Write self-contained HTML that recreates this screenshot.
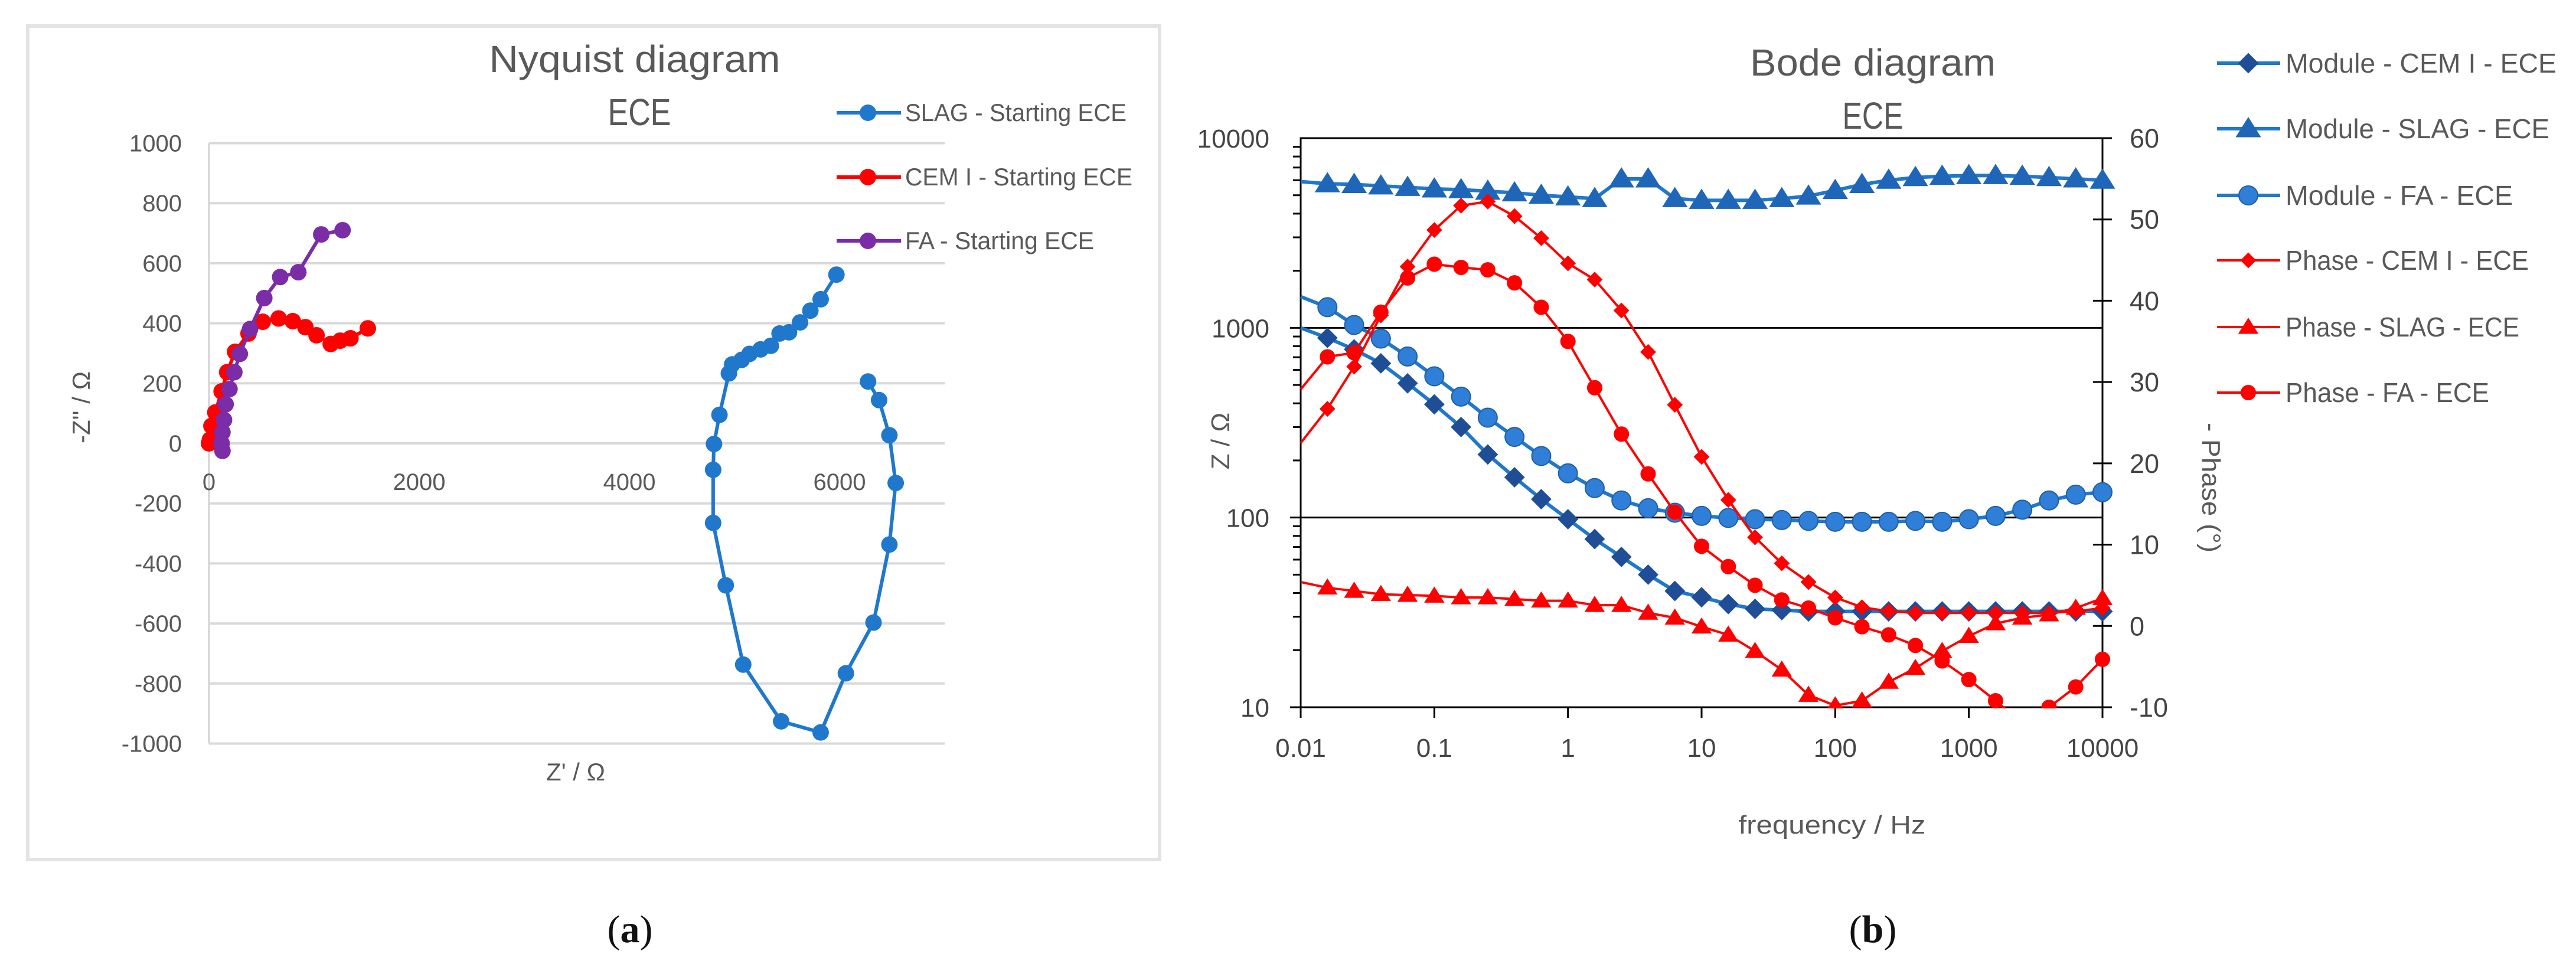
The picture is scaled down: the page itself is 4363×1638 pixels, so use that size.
<!DOCTYPE html>
<html><head><meta charset="utf-8"><style>
html,body{margin:0;padding:0;background:#fff;}
svg{display:block;font-family:"Liberation Sans",sans-serif;}
</style></head><body>
<svg id="root" width="4363" height="1638" viewBox="0 0 4363 1638" xmlns="http://www.w3.org/2000/svg">
<rect x="0" y="0" width="4363" height="1638" fill="#fff"/>
<rect x="47" y="44" width="1917" height="1412" fill="none" stroke="#e3e3e3" stroke-width="6"/>
<g id="nyq"></g>
<g id="bode"></g>
<text x="1067" y="1596" font-family="Liberation Serif,serif" font-size="66" text-anchor="middle" fill="#111">(<tspan font-weight="bold">a</tspan>)</text>
<text x="3172" y="1596" font-family="Liberation Serif,serif" font-size="66" text-anchor="middle" fill="#111">(<tspan font-weight="bold">b</tspan>)</text>
</svg>
<script>
// ---------- Nyquist data ----------
const slagX = [5970,5820,5722,5624,5519,5429,5346,5248,5143,5068,4978,4947,4857,4805,4797,4797,4917,5083,5444,5820,6060,6323,6474,6534,6474,6376,6271];
const slagY = [562,480,442,403,370,366,325,313,298,278,263,233,95,-2,-88,-265,-473,-737,-926,-963,-766,-597,-337,-132,27,144,206];
const cemX = [1511,1346,1248,1158,1023,917,797,662,511,376,248,173,120,60,23,8,0];
const cemY = [383,350,342,331,360,387,407,416,405,366,305,237,173,103,58,12,0];
const faX = [1271,1068,850,677,526,391,293,241,195,158,143,128,120,128];
const faY = [710,696,570,554,484,381,298,237,181,130,78,37,0,-25];
const nyqXTicks = [0,2000,4000,6000];
const nyqYTicks = [1000,800,600,400,200,0,-200,-400,-600,-800,-1000];
const nyqLegend = ["SLAG - Starting ECE","CEM I - Starting ECE","FA - Starting ECE"];

// ---------- Bode data ----------
const freqExp = [-2,-1.8,-1.6,-1.4,-1.2,-1,-0.8,-0.6,-0.4,-0.2,0,0.2,0.4,0.6,0.8,1,1.2,1.4,1.6,1.8,2,2.2,2.4,2.6,2.8,3,3.2,3.4,3.6,3.8,4];
const modCem = [1000,885,770,650,510,395,300,215,163,125,98,77,62,50,41,38,35,33,32.5,32,32,32,32,32,32,32,32,32,32,32,32];
const modSlag = [5900,5750,5700,5600,5500,5400,5350,5250,5150,5000,4900,4800,6100,6100,4800,4700,4700,4700,4800,4950,5300,5700,6000,6200,6300,6350,6350,6300,6200,6100,6000];
const modFa = [1460,1285,1035,877,706,555,434,336,266,211,171,143,123,112,106,102,99.5,98,97,96,95,95,95,96,95,98,102,110,123,132,136];
const phCem = [22.5,26.7,31.9,38.2,44.2,48.7,51.7,52.2,50.4,47.7,44.6,42.6,38.8,33.7,27.2,20.8,15.5,10.9,7.7,5.4,3.5,2.3,1.8,1.6,1.6,1.6,1.6,1.6,1.6,1.8,2.2];
const phSlag = [5.4,4.7,4.3,3.9,3.8,3.7,3.5,3.5,3.3,3.1,3.1,2.55,2.55,1.6,1.0,-0.1,-1.1,-3.1,-5.4,-8.5,-9.8,-9.2,-6.9,-5.2,-3.1,-1.25,0.3,1.0,1.4,2.2,3.4];
const phFa = [29.1,33.1,33.6,38.6,42.8,44.5,44.1,43.8,42.2,39.2,35.0,29.3,23.6,18.7,14.0,9.8,7.3,5.0,3.2,2.2,1.0,-0.1,-1.1,-2.4,-4.3,-6.6,-9.2,-12,-10.0,-7.5,-4.1];
const bodeXTicks = ["0.01","0.1","1","10","100","1000","10000"];
const bodeZTicks = ["10000","1000","100","10"];
const bodePhTicks = [60,50,40,30,20,10,0,-10];
const bodeLegend = ["Module - CEM I - ECE","Module - SLAG - ECE","Module - FA - ECE","Phase - CEM I - ECE","Phase - SLAG - ECE","Phase - FA - ECE"];

const NS = "http://www.w3.org/2000/svg";
function mk(parent, tag, attrs){ const e=document.createElementNS(NS,tag); for(const k in attrs) e.setAttribute(k,attrs[k]); parent.appendChild(e); return e; }

// ----- Nyquist -----
const nyq = document.getElementById('nyq');
const nx = v => 354 + v*(356/2000);
const ny = v => 751 - v*(508.5/1000);
nyqYTicks.forEach(t=>{
  const g = mk(nyq,'line',{x1:354,x2:1600,y1:ny(t),y2:ny(t),stroke:'#d9d9d9','stroke-width':4});
  
  
  const tx = mk(nyq,'text',{x:308,y:ny(t)+14,'font-size':40,'text-anchor':'end',fill:'#595959'});
  tx.textContent = t;
  
  
});
const yax = mk(nyq,'line',{x1:354,x2:354,y1:ny(1000),y2:ny(-1000),stroke:'#d9d9d9','stroke-width':4});


nyqXTicks.forEach(t=>{
  const tx = mk(nyq,'text',{x:nx(t),y:830,'font-size':40,'text-anchor':'middle',fill:'#595959'});
  tx.textContent = t;
  
  
});
function txt(parent,x,y,s,size,name,opts){
  const t = mk(parent,'text',Object.assign({x:x,y:y,'font-size':size,fill:'#595959'},opts||{}));
  t.textContent = s;
  
  
  return t;
}
txt(nyq,1075,122,"Nyquist diagram",64,'nyquist-title',{'text-anchor':'middle',textLength:493,lengthAdjust:'spacingAndGlyphs'});
txt(nyq,1083,212,"ECE",64,'nyquist-subtitle',{'text-anchor':'middle',textLength:107,lengthAdjust:'spacingAndGlyphs'});
txt(nyq,975,1322,"Z' / Ω",42,'nyquist-x-axis-title',{'text-anchor':'middle'});
txt(nyq,0,0,"-Z'' / Ω",42,'nyquist-y-axis-title',{'text-anchor':'middle',transform:'translate(152,690) rotate(-90)'});
const nyqSeries = [[slagX,slagY,'#1F78CC'],[cemX,cemY,'#FF0000'],[faX,faY,'#7A2DA6']];
nyqSeries.forEach((s,i)=>{
  const pts = s[0].map((x,j)=>nx(x)+','+ny(s[1][j])).join(' ');
  const pl = mk(nyq,'polyline',{points:pts,fill:'none',stroke:s[2],'stroke-width':6,'stroke-linejoin':'round'});
  
  
  s[0].forEach((x,j)=>{
    const c = mk(nyq,'circle',{cx:nx(x),cy:ny(s[1][j]),r:14,fill:s[2]});
    
    
  });
  const ly = [191,300,408][i];
  const ll = mk(nyq,'line',{x1:1417,x2:1526,y1:ly,y2:ly,stroke:s[2],'stroke-width':6});
  
  
  const lc = mk(nyq,'circle',{cx:1470,cy:ly,r:14,fill:s[2]});
  
  
  txt(nyq,1533,ly+14,nyqLegend[i],42,'nyquist-legend-entry',{textLength:[375,385,320][i],lengthAdjust:'spacingAndGlyphs'});
});

// ----- Bode -----
const bode = document.getElementById('bode');
const L=2203,R=3561,T=234,B=1198;
const bx = e => L + (e+2)*(R-L)/6;
const bz = v => T + (4-Math.log10(v))*(B-T)/3;
const bp = v => T + (60-v)*(B-T)/70;
txt(bode,3172,128,"Bode diagram",64,'bode-title',{'text-anchor':'middle',textLength:416,lengthAdjust:'spacingAndGlyphs'});
txt(bode,3172,218,"ECE",64,'bode-subtitle',{'text-anchor':'middle',textLength:103,lengthAdjust:'spacingAndGlyphs'});
// grid / frame
[1000,100].forEach(v=>{
  const g = mk(bode,'line',{x1:L,x2:R,y1:bz(v),y2:bz(v),stroke:'#000','stroke-width':3});
  
  
});
const fr = mk(bode,'path',{d:`M${L},${T}H${R}V${B}H${L}Z`,fill:'none',stroke:'#000','stroke-width':3});


// left log ticks
for(let d=1;d<=3;d++){
  for(let m=1;m<=9;m++){
    const v = Math.pow(10,d)*m;
    const tk = mk(bode,'line',{x1:L-(m===1?18:13),x2:L,y1:bz(v),y2:bz(v),stroke:'#000','stroke-width':3});
    
    
  }
}
bodeZTicks.forEach(s=>{
  txt(bode,2150,bz(+s)+16,s,44,'bode-z-tick-label',{'text-anchor':'end',fill:'#444'});
});
bodeXTicks.forEach(s=>{
  const x = bx(Math.log10(+s));
  const tk = mk(bode,'line',{x1:x,x2:x,y1:B,y2:B+18,stroke:'#000','stroke-width':3});
  
  
  txt(bode,x,B+84,s,44,'bode-x-tick-label',{'text-anchor':'middle',fill:'#444'});
});
bodePhTicks.forEach(v=>{
  const tk = mk(bode,'line',{x1:R-16,x2:R+16,y1:bp(v),y2:bp(v),stroke:'#000','stroke-width':3});
  
  
  txt(bode,R+46,bp(v)+16,v,45,'bode-phase-tick-label',{fill:'#444'});
});
txt(bode,3103,1412,"frequency / Hz",44,'bode-x-axis-title',{'text-anchor':'middle',textLength:317,lengthAdjust:'spacingAndGlyphs'});
txt(bode,0,0,"Z / Ω",44,'bode-z-axis-title',{'text-anchor':'middle',transform:'translate(2082,747) rotate(-90)'});
txt(bode,0,0,"- Phase (°)",44,'bode-phase-axis-title',{'text-anchor':'middle',transform:'translate(3730,826) rotate(90)',textLength:220,lengthAdjust:'spacingAndGlyphs'});
const clip = mk(bode,'clipPath',{id:'bclip'});
mk(clip,'rect',{x:L-5,y:150,width:R-L+60,height:B-150+2});
const plotG = mk(bode,'g',{'clip-path':'url(#bclip)'});


function marker(g,shape,x,y,sz,fill,stroke){
  let e;
  if(shape==='d') e = mk(g,'path',{d:`M${x},${y-sz}L${x+sz},${y}L${x},${y+sz}L${x-sz},${y}Z`,fill:fill,stroke:stroke,'stroke-width':2});
  else if(shape==='t') e = mk(g,'path',{d:`M${x},${y-sz}L${x+sz*1.1},${y+sz*0.75}L${x-sz*1.1},${y+sz*0.75}Z`,fill:fill,stroke:stroke,'stroke-width':2});
  else e = mk(g,'circle',{cx:x,cy:y,r:sz,fill:fill,stroke:stroke,'stroke-width':2});
  return e;
}
const bodeSeries = [
  [modCem,bz,'#1F78CC','d','#1F4E96','#1F4E96',16,6],
  [modSlag,bz,'#1F78CC','t','#1F66B8','#1F66B8',18,6],
  [modFa,bz,'#1F78CC','c','#2F7ED8','#1F5FA8',16,6],
  [phCem,bp,'#FF0000','d','#FF0000','#FF0000',12,4],
  [phSlag,bp,'#FF0000','t','#FF0000','#FF0000',14,4],
  [phFa,bp,'#FF0000','c','#FF0000','#FF0000',12,4]
];
bodeSeries.forEach((s,i)=>{
  const pts = s[0].map((v,j)=>bx(freqExp[j])+','+s[1](v)).join(' ');
  const pl = mk(plotG,'polyline',{points:pts,fill:'none',stroke:s[2],'stroke-width':s[7],'stroke-linejoin':'round'});
  
  
  s[0].forEach((v,j)=>{
    if(j===0) return;
    const m = marker(plotG,s[3],bx(freqExp[j]),s[1](v),s[6],s[4],s[5]);
    
    
  });
  const ly = [107,218,331,441,554,665][i];
  const ll = mk(bode,'line',{x1:3755,x2:3862,y1:ly,y2:ly,stroke:s[2],'stroke-width':s[7]});
  
  
  const lm = marker(bode,s[3],3808,ly,s[6],s[4],s[5]);
  
  
  txt(bode,3871,ly+16,bodeLegend[i],46,'bode-legend-entry',{textLength:[459,447,385,412,396,345][i],lengthAdjust:'spacingAndGlyphs'});
});
</script>
</body></html>
